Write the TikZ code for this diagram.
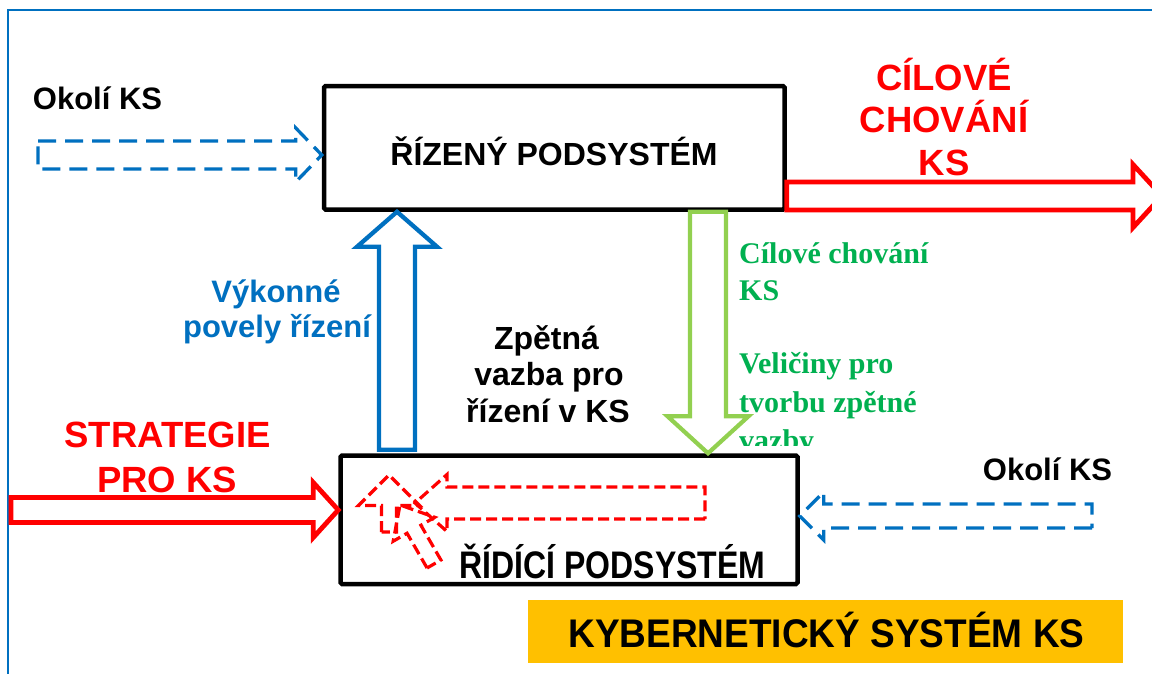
\documentclass[tikz,border=0pt]{standalone}
\usepackage{fontspec}
\setmainfont{Liberation Sans}
\newfontfamily\serifb{Liberation Serif}
\usetikzlibrary{calc}
\definecolor{cblue}{HTML}{0070C0}
\definecolor{cgreen}{HTML}{00B050}
\definecolor{cltgreen}{HTML}{92D050}
\definecolor{cyellow}{HTML}{FFC000}
% #1 style, #2 start, #3 tip, #4 shaft half width, #5 head half width, #6 head length
\newcommand\blockarrow[6][]{%
  \coordinate (ba-h) at ($(#3)!#6!(#2)$);
  \draw[#1] ($(#2)!#4!90:(#3)$) -- ($(ba-h)!#4!-90:(#2)$) -- ($(ba-h)!#5!-90:(#2)$)
    -- (#3) -- ($(ba-h)!#5!90:(#2)$) -- ($(ba-h)!#4!90:(#2)$) -- ($(#2)!#4!-90:(#3)$) -- cycle;
}
\tikzset{
  box/.style={draw=black, line width=4.5pt, rounded corners=1.5pt, fill=white, inner sep=0pt},
  txt/.style={inner sep=0pt, anchor=base},
  fa/.style={font=\bfseries\fontsize{31}{36}\selectfont},
  fb/.style={font=\bfseries\fontsize{32}{36}\selectfont},
  fc/.style={font=\bfseries\fontsize{36.5}{40}\selectfont},
  fg/.style={font=\serifb\bfseries\fontsize{30}{36}\selectfont, text=cgreen, anchor=base west},
  bluedash/.style={draw=cblue, line width=3.3pt, dash pattern=on 18pt off 9pt},
  reddash/.style={draw=red, line width=3.2pt, dash pattern=on 11pt off 5pt},
  redsolid/.style={draw=red, line width=4.8pt},
  bluesolid/.style={draw=cblue, line width=4.3pt},
  greensolid/.style={draw=cltgreen, line width=4.2pt},
}
\begin{document}
\begin{tikzpicture}[x=1pt,y=-1pt]
\useasboundingbox (0,0) rectangle (1152,673);
\clip (0,0) rectangle (1152,673);
\fill[white] (0,0) rectangle (1152,673);
% outer frame
\draw[cblue, line width=2.2pt] (8,690) -- (8,10) -- (1170,10);

% boxes
\node[fill=cyellow, inner sep=0pt, minimum width=595pt, minimum height=63pt] (ks) at (825.5,631.5) {};
\node[box, minimum width=460.5pt, minimum height=123.5pt] (rizeny) at (554.25,147.75) {};
\node[box, minimum width=457pt, minimum height=128.5pt] (ridici) at (569,519.75) {};

% free ends
\coordinate (a1s) at (38,155);
\coordinate (a2s) at (1092,516);
\coordinate (a3s) at (11,510);
\coordinate (a4y) at (0,196);
\coordinate (a4e) at (1162,196);
\coordinate (a5x) at (397,0);
\coordinate (a6x) at (708,0);

% environment inputs
\blockarrow[bluedash]{a1s}{rizeny.west |- a1s}{14pt}{27pt}{26pt}
\blockarrow[bluedash]{a2s}{ridici.east |- a2s}{12pt}{24pt}{24pt}
% strategy and goal behaviour
\blockarrow[redsolid]{a3s}{ridici.west |- a3s}{12.5pt}{27.5pt}{25pt}
\blockarrow[redsolid]{rizeny.east |- a4y}{a4e}{14pt}{31.5pt}{29pt}
% control commands and feedback
\coordinate (a5s) at ($(ridici.north -| a5x)+(0,-3.5)$);
\blockarrow[bluesolid]{a5s}{rizeny.south -| a5x}{18pt}{40pt}{35pt}
\blockarrow[greensolid]{rizeny.south -| a6x}{ridici.north -| a6x}{18pt}{40.5pt}{37pt}

% internal dashed arrows
\coordinate (r1s) at (705,503);
\coordinate (r1e) at (415,503);
\coordinate (r2s) at (389,532);
\coordinate (r2e) at (389,475);
\coordinate (r3s) at (434,564);
\coordinate (r3e) at (400,505);
\blockarrow[reddash]{r1s}{r1e}{16pt}{28.5pt}{32pt}
\blockarrow[reddash]{r2s}{r2e}{7.5pt}{30.5pt}{30.5pt}
\blockarrow[reddash]{r3s}{r3e}{8pt}{24pt}{28pt}

% texts
\node[txt, fa] (okoli1) at (97.5,109) {Okolí KS};
\node[txt, fa] (okoli2) at (1047.5,480) {Okolí KS};
\node[txt, fb] (rizenyT) at (554,165) {ŘÍZENÝ PODSYSTÉM};
\node[txt, fc, text=red] (cil1) at (944,90) {CÍLOVÉ};
\node[txt, fc, text=red] (cil2) at (944,132) {CHOVÁNÍ};
\node[txt, fc, text=red] (cil3) at (944,175) {KS};
\node[txt, fc, text=red] (str1) at (167.5,447) {STRATEGIE};
\node[txt, fc, text=red] (str2) at (167,492) {PRO KS};
\node[txt, fa, text=cblue] (vyk1) at (276,302) {Výkonné};
\node[txt, fa, text=cblue] (vyk2) at (277,337) {povely řízení};
\node[txt, fb] (zp1) at (546.5,349) {Zpětná};
\node[txt, fb] (zp2) at (549,385) {vazba pro};
\node[txt, fb] (zp3) at (548,422) {řízení v KS};
\begin{scope}
\clip (730,220) rectangle (1000,445);
\node[txt, fg] (g1) at (739,263) {Cílové chování};
\node[txt, fg] (g2) at (739,300) {KS};
\node[txt, fg] (g3) at (739,373) {Veličiny pro};
\node[txt, fg] (g4) at (739,412) {tvorbu zpětné};
\node[txt, fg] (g5) at (739,450) {vazby};
\end{scope}
\node[txt, fb] (ridiciT) at (612.5,578) {\scalebox{1}[1.2]{ŘÍDÍCÍ PODSYSTÉM}};
\node[txt, font=\bfseries\fontsize{37}{40}\selectfont] (ksT) at (826.5,647) {\scalebox{1}[1.08]{KYBERNETICKÝ SYSTÉM KS}};
\end{tikzpicture}
\end{document}
